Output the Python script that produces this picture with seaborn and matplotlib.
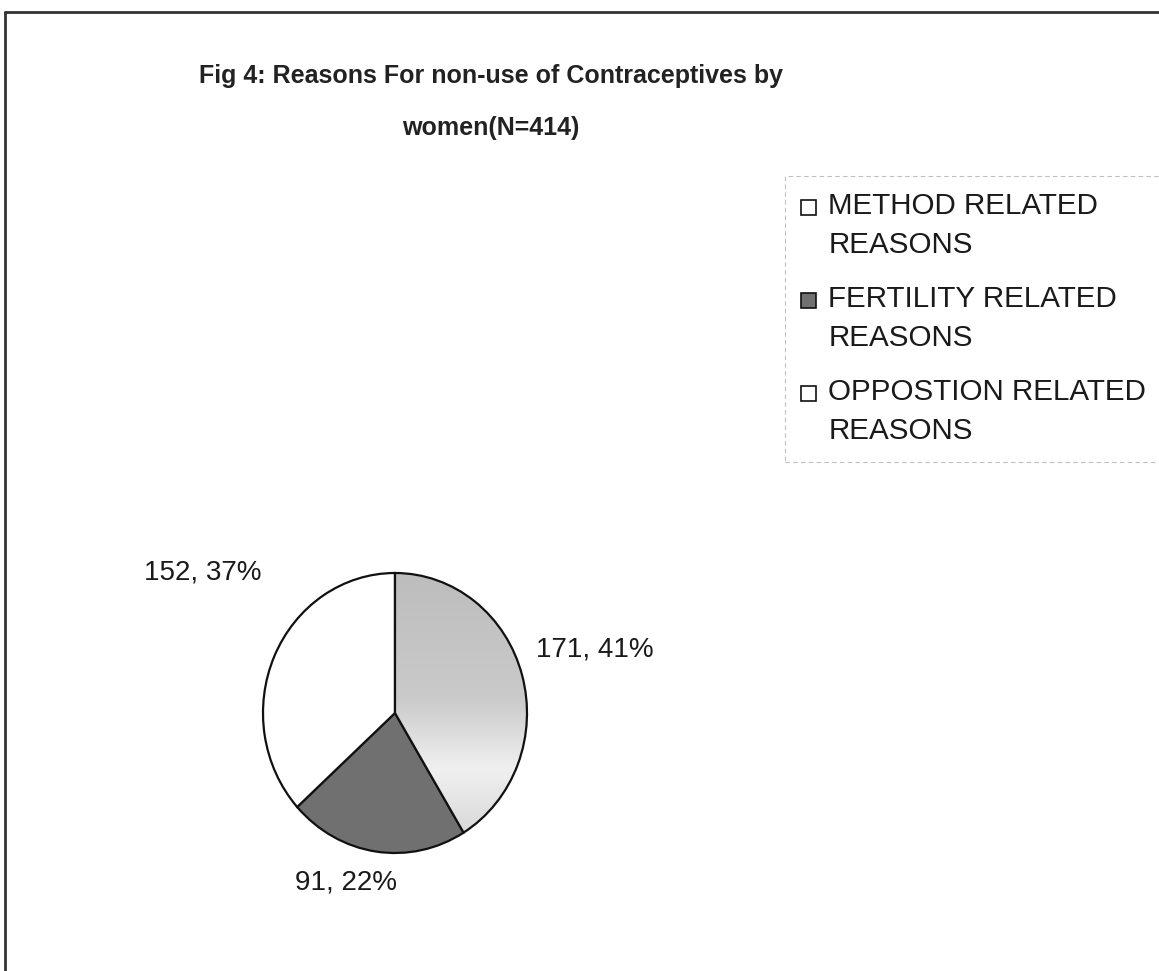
import numpy as np
import matplotlib
matplotlib.use("Agg")
import matplotlib.pyplot as plt
import seaborn as sns
from matplotlib.lines import Line2D
from matplotlib.patches import Rectangle
from matplotlib.legend_handler import HandlerPatch

# Daten aus der Grafik
categories = ["METHOD RELATED\nREASONS", "FERTILITY RELATED\nREASONS", "OPPOSTION RELATED\nREASONS"]
counts = [171, 91, 152]
percents = [41, 22, 37]
slice_colors = ["#c6c6c6", "#707070", "#ffffff"]
legend_colors = ["#ffffff", "#707070", "#ffffff"]

# Positionen der Beschriftungen (in Radius-Einheiten, Mitte des Textes)
label_xy = [(1.515, 0.45), (-0.37, -1.214), (-1.455, 1.007)]

sns.set_theme(style="white")
plt.rcParams['font.family'] = ['Liberation Sans', 'DejaVu Sans']


# Legendenkästchen an der ersten Textzeile ausrichten (wie in Excel)
class TopSquare(HandlerPatch):
    def create_artists(self, legend, orig_handle, xdescent, ydescent, width, height, fontsize, trans):
        size = 0.51 * fontsize
        shift = 0.64 * fontsize
        p = Rectangle((-xdescent, -ydescent + (height - size) / 2 + shift), size, size,
                      facecolor=orig_handle.get_facecolor(), edgecolor="#111111", lw=1.2)
        p.set_transform(trans)
        return [p]


fig = plt.figure(figsize=(11.59, 9.71), dpi=100)
fig.patch.set_facecolor("white")

# Rahmen oben und links wie im Scan
fig.add_artist(Line2D([5/1159, 1], [1-12/971, 1-12/971], color="#333333", lw=2))
fig.add_artist(Line2D([5/1159, 5/1159], [0, 1-12/971], color="#333333", lw=2))

fig.text(491/1159, 1-102/971, "Fig 4: Reasons For non-use of Contraceptives by\nwomen(N=414)",
         ha="center", va="center", fontsize=18, fontweight="bold", color="#222222",
         linespacing=2.5)

ax = fig.add_axes([263/1159, 118/971, 264/1159, 280/971])
wedges, _ = ax.pie(counts, colors=slice_colors, startangle=90, counterclock=False,
                   wedgeprops=dict(edgecolor="#111111", linewidth=1.6))
ax.set_aspect("auto")
ax.set_xlim(-1, 1)
ax.set_ylim(-1, 1)
ax.axis("off")

# leichter Farbverlauf im hellen Segment (unten rechts am hellsten)
grad = np.linspace(0, 1, 256).reshape(-1, 1)
cmap = matplotlib.colors.LinearSegmentedColormap.from_list(
    "g", [(0, "#d2d2d2"), (0.3, "#f0f0f0"), (0.55, "#cacaca"), (1, "#bdbdbd")])
img = ax.imshow(grad, extent=(-1, 1, -1, 1), origin="lower", cmap=cmap, aspect="auto", zorder=1.5)
img.set_clip_path(wedges[0])
wedges[0].set_facecolor("none")
wedges[0].set_zorder(2)

for (x, y), c, p in zip(label_xy, counts, percents):
    ax.text(x, y, f"{c}, {p}%", ha="center", va="center", fontsize=20, color="#1a1a1a", clip_on=False)

handles = [Rectangle((0, 0), 1, 1, facecolor=col, edgecolor="#111111", lw=1.2) for col in legend_colors]
leg = fig.legend(handles, categories, loc="upper left", bbox_to_anchor=(785/1159, 1-176/971),
                 fontsize=21.3, frameon=True, handlelength=0.7, handleheight=0.7,
                 handletextpad=0.22, labelspacing=0.88, borderaxespad=0, borderpad=0.55,
                 handler_map={Rectangle: TopSquare()})
leg.get_frame().set_edgecolor("#b0b0b0")
leg.get_frame().set_linestyle((0, (4, 3)))
leg.get_frame().set_linewidth(0.8)
leg.get_frame().set_boxstyle("square", pad=0)
for t in leg.get_texts():
    t.set_linespacing(1.5)
    t.set_color("#1a1a1a")

fig.savefig("out.png", dpi=100, facecolor="white")
